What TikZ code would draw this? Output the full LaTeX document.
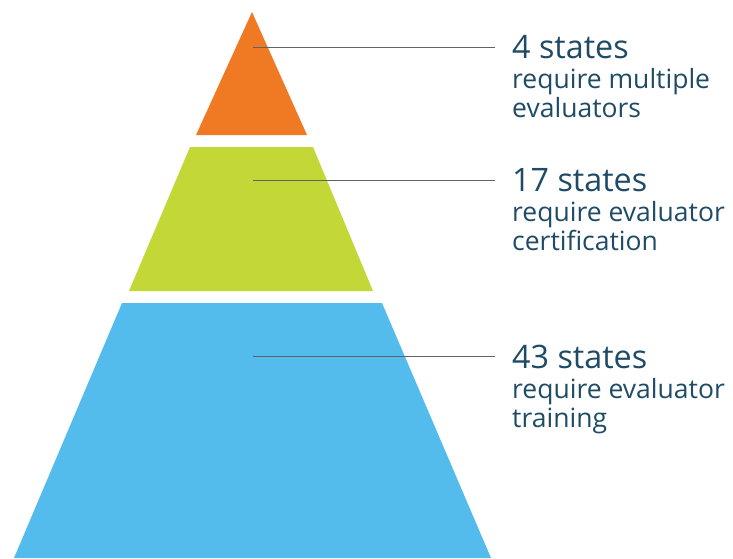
\documentclass[tikz,border=0pt]{standalone}
\usepackage{fontspec}
\setmainfont{Open Sans}
\definecolor{orng}{HTML}{F07A24}
\definecolor{lime}{HTML}{C3D737}
\definecolor{sky}{HTML}{53BCEC}
\definecolor{txt}{HTML}{1F4B66}
\definecolor{lead}{HTML}{5F6366}
\begin{document}
\begin{tikzpicture}[x=1pt,y=-1pt,
  big/.style={anchor=base west,inner sep=0pt,text=txt,font=\fontsize{32.3}{34}\selectfont},
  small/.style={anchor=base west,inner sep=0pt,text=txt,font=\fontsize{26.5}{30}\selectfont},
  leader/.style={draw=lead,line width=0.9pt}]
\useasboundingbox (0,0) rectangle (733,558);
\fill[orng] (252,12) -- (307,135) -- (196,135) -- cycle;
\fill[lime] (190,147) -- (313,147) -- (373,291) -- (129,291) -- cycle;
\fill[sky] (122,303) -- (382,303) -- (491,558) -- (14,558) -- cycle;
\coordinate (a1) at (253,47);
\coordinate (a2) at (253,180);
\coordinate (a3) at (253,356);
\node[big] (t1) at (512,58) {4 states};
\node[small] (s1) at (512,88) {require multiple};
\node[small] (u1) at (512,117) {evaluators};
\node[big] (t2) at (512,191) {17 states};
\node[small] (s2) at (512,221) {require evaluator};
\node[small] (u2) at (512,250) {certification};
\node[big] (t3) at (512,368) {43 states};
\node[small] (s3) at (512,398) {require evaluator};
\node[small] (u3) at (512,427) {training};
\draw[leader] (a1) -- (495,47);
\draw[leader] (a2) -- (495,180);
\draw[leader] (a3) -- (495,356);
\end{tikzpicture}
\end{document}
